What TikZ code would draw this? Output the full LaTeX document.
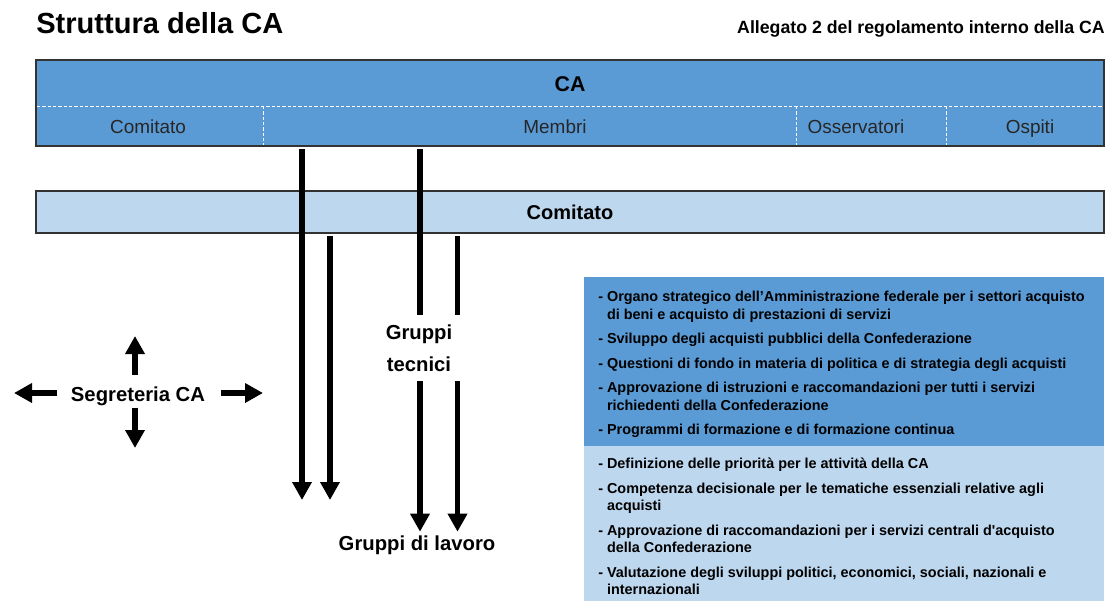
\documentclass[tikz,border=0pt]{standalone}
\usepackage{fontspec}
\setmainfont{Liberation Sans}
\usetikzlibrary{arrows.meta, positioning, calc}
\definecolor{cablue}{RGB}{91,155,213}
\definecolor{calight}{RGB}{189,215,238}
\newcommand{\hang}{\hspace*{0.611em}}

\begin{document}
\begin{tikzpicture}[
    x=0.75pt, y=-0.75pt,
    bar/.style={draw=black!80, line width=1.5pt, minimum width=801pt, inner sep=0pt},
    sublabel/.style={anchor=base, font=\fontsize{14.2}{17}\selectfont, text=black!85},
    divider/.style={white, line width=0.75pt, dash pattern=on 2.5pt off 1.5pt},
    flow/.style={line width=4.2pt, -{Triangle[width=14pt, length=13.5pt]}},
    plain/.style={line width=4.2pt},
    grouplabel/.style={font=\bfseries\fontsize{15.2}{24}\selectfont, align=center, inner sep=0pt},
    panel/.style={minimum width=390pt, inner sep=0pt},
    paneltext/.style={anchor=north west, inner sep=0pt, align=left, font=\bfseries\fontsize{10.8}{13.1}\selectfont}
]
    \useasboundingbox (0,0) rectangle (1114,603);

    % Titles
    \node[anchor=base west, inner sep=0pt, font=\bfseries\fontsize{21.8}{26}\selectfont] (title) at (36,33) {Struttura della CA};
    \node[anchor=base east, inner sep=0pt, font=\bfseries\fontsize{13.3}{16}\selectfont] (annex) at (1105,33) {Allegato 2 del regolamento interno della CA};

    % Bars
    \node[bar, fill=cablue, minimum height=64.5pt] (ca) at (570,103) {};
    \node[bar, fill=calight, minimum height=31.5pt, font=\bfseries\fontsize{15}{18}\selectfont] (comitato) at (570,212) {Comitato};
    \node[font=\bfseries\fontsize{16}{19}\selectfont] (catitle) at (570,84) {CA};

    % CA members row
    \draw[divider] (37,106) -- (1103,106);
    \foreach \x in {263,796,946}
        \draw[divider] (\x,106) -- (\x,145);
    \node[sublabel] (rowcom) at (148,133) {Comitato};
    \node[sublabel] (rowmem) at (555,133) {Membri};
    \node[sublabel] (rowobs) at (856,133) {Osservatori};
    \node[sublabel] (rowgue) at (1030,133) {Ospiti};

    % Groups
    \node[grouplabel, inner ysep=7pt] (tecnici) at (419,348) {Gruppi\\tecnici};
    \node[grouplabel, anchor=base, inner sep=2.5pt] (lavoro) at (417,550) {Gruppi di lavoro};
    \coordinate (m1) at (302,500);
    \coordinate (m2) at (330,500);
    \coordinate (t1) at (420,532);
    \coordinate (t2) at (457.5,532);

    % Arrows
    \draw[flow, shorten <=1.5pt] (ca.south -| m1) -- (m1);
    \draw[flow, shorten <=1.5pt] (comitato.south -| m2) -- (m2);
    \draw[plain, shorten <=1.5pt] (ca.south -| t1) -- (tecnici.north -| t1);
    \draw[plain, shorten <=1.5pt] (comitato.south -| t2) -- (tecnici.north -| t2);
    \draw[flow] (tecnici.south -| t1) -- (lavoro.north -| t1);
    \draw[flow] (tecnici.south -| t2) -- (lavoro.north -| t2);

    % Secretariat
    \node[grouplabel, anchor=base] (seg) at (138,401) {Segreteria CA};
    \coordinate (segU) at (135,336);
    \coordinate (segD) at (135,448);
    \coordinate (segL) at (14,393);
    \coordinate (segR) at (263,393);
    \draw[flow, shorten <=8.6pt] (seg.north -| segU) -- (segU);
    \draw[flow, shorten <=1.5pt] (seg.south -| segD) -- (segD);
    \draw[flow, shorten <=10pt] (seg.west |- segL) -- (segL);
    \draw[flow, shorten <=11.6pt] (seg.east |- segR) -- (segR);

    % Tasks
    \node[panel, fill=cablue, minimum height=126.75pt] (tasks) at (844,361.5) {};
    \node[panel, fill=calight, minimum height=116.25pt] (duties) at (844,523.5) {};
    \node[paneltext] (taskslist) at (598,291) {%
        - Organo strategico dell'Amministrazione federale per i settori acquisto\\
        \hang di beni e acquisto di prestazioni di servizi\\[5.25pt]
        - Sviluppo degli acquisti pubblici della Confederazione\\[5.25pt]
        - Questioni di fondo in materia di politica e di strategia degli acquisti\\[5.25pt]
        - Approvazione di istruzioni e raccomandazioni per tutti i servizi\\
        \hang richiedenti della Confederazione\\[5.25pt]
        - Programmi di formazione e di formazione continua};
    \node[paneltext] (dutieslist) at (598,458) {%
        - Definizione delle priorit\`a per le attivit\`a della CA\\[5.25pt]
        - Competenza decisionale per le tematiche essenziali relative agli\\
        \hang acquisti\\[5.25pt]
        - Approvazione di raccomandazioni per i servizi centrali d\textquotesingle acquisto\\
        \hang della Confederazione\\[5.25pt]
        - Valutazione degli sviluppi politici, economici, sociali, nazionali e\\
        \hang internazionali};
\end{tikzpicture}
\end{document}
